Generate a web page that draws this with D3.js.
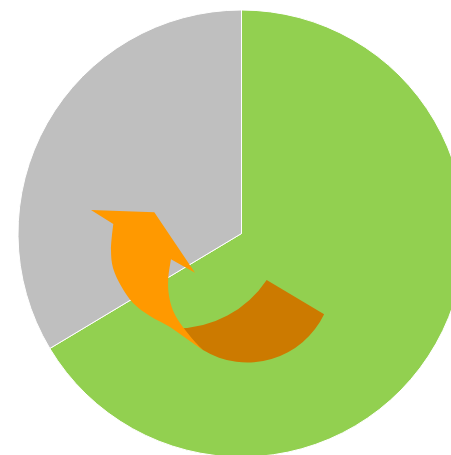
<!DOCTYPE html>
<html>
<head>
<meta charset="utf-8">
<script src="https://cdn.jsdelivr.net/npm/d3@7"></script>
<style>
  html, body { margin: 0; padding: 0; background: #ffffff; }
  svg { display: block; }
</style>
</head>
<body>
<div id="chart"></div>
<script>
// ---- data ----
const categories = ["A", "B"];
const values = [66.4, 33.6];
const colors = ["#92D050", "#BFBFBF"];

// ---- decoration: curved arrow (offsets from pie centre, px) ----
const arrowHead = [[-150.5, -23.5], [-87.2, -21.2], [-46.5, 39.2], [-70.5, 25.8]];
const arrowInner = [[-70.5, 25.8], [-73.2, 44.5], [-73, 58.5], [-69.8, 73.5], [-63.5, 86.5], [-55.5, 97.5], [-45.5, 109.5], [-38.5, 116.5]];
const arrowOuter = [[-38.5, 116.5], [-54.5, 105.5], [-71.5, 93.5], [-91.5, 82.5], [-108.5, 69.5], [-119.8, 53.5], [-128.5, 34.5], [-130.5, 16.5], [-128.2, -9.5]];

const W = 451, H = 455;
const cx = 241.5, cy = 233.5, R = 223.5;

const svg = d3.select("#chart").append("svg")
  .attr("width", W).attr("height", H)
  .attr("viewBox", `0 0 ${W} ${H}`);

const g = svg.append("g").attr("transform", `translate(${cx},${cy})`);

const pie = d3.pie().sort(null).value(d => d)(values);
const arc = d3.arc().innerRadius(0).outerRadius(R);

g.selectAll("path.slice").data(pie).join("path")
  .attr("class", "slice")
  .attr("d", arc)
  .attr("fill", (d, i) => colors[i])
  .attr("stroke", "#ffffff")
  .attr("stroke-width", 1);

// dark back part of the ribbon
const dp = d3.path();
const oc = [5.9, 44.1], oR = 85;
const ic = [-65.5, -14], iR = 109;
const rad = a => a * Math.PI / 180;
dp.moveTo(oc[0] + oR * Math.cos(rad(25.5)), oc[1] + oR * Math.sin(rad(25.5)));
dp.arc(oc[0], oc[1], oR, rad(25.5), rad(121.5), false);
dp.lineTo(ic[0] + iR * Math.cos(rad(90)), ic[1] + iR * Math.sin(rad(90)));
dp.arc(ic[0], ic[1], iR, rad(90), rad(33.7), true);
dp.closePath();
g.append("path").attr("d", dp.toString()).attr("fill", "#CC7A00");

// front part with arrow head
const cr = d3.line().curve(d3.curveCatmullRom.alpha(0.5));
const head = d3.line()(arrowHead);
const inner = cr(arrowInner);
const outer = cr(arrowOuter);
const front = head + "L" + inner.slice(1) + "L" + outer.slice(1) + "Z";
g.append("path").attr("d", front).attr("fill", "#FF9900");
</script>
</body>
</html>
